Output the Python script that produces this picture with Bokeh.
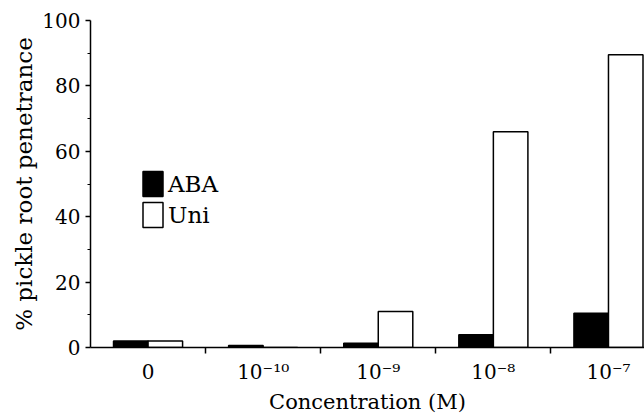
from bokeh.plotting import figure
from bokeh.models import Range1d, FixedTicker, ColumnDataSource, Legend, LegendItem
from bokeh.embed import file_html
from bokeh.resources import INLINE

categories = ["0", "10\u207b\u00b9\u2070", "10\u207b\u2079", "10\u207b\u2078", "10\u207b\u2077"]
aba = [2.0, 0.6, 1.3, 3.9, 10.5]
uni = [2.0, 0.0, 11.0, 66.0, 89.5]

centers = [i + 0.5 for i in range(len(categories))]
bar_w = 0.3
src = ColumnDataSource(dict(
    x_aba=[c - bar_w / 2 for c in centers],
    x_uni=[c + bar_w / 2 for c in centers],
    aba=aba, uni=uni,
))

FONT = "DejaVu Serif"

p = figure(width=644, height=416, output_backend="svg", toolbar_location=None,
           x_range=Range1d(0, 4.813), y_range=Range1d(0, 100),
           min_border_left=90, min_border_right=0, min_border_top=20, min_border_bottom=69)
p.outline_line_color = None
p.xgrid.visible = False
p.ygrid.visible = False
p.background_fill_color = "white"
p.border_fill_color = "white"

r_aba = p.vbar(x="x_aba", top="aba", width=bar_w, source=src,
               fill_color="black", line_color="black", line_width=1.5)
r_uni = p.vbar(x="x_uni", top="uni", width=bar_w, source=src,
               fill_color="white", line_color="black", line_width=1.5)

# x axis
xa = p.xaxis[0]
xa.ticker = FixedTicker(ticks=centers, minor_ticks=[1, 2, 3, 4])
xa.major_label_overrides = {c: lab for c, lab in zip(centers, categories)}
xa.major_tick_line_color = None
xa.major_tick_out = 0
xa.major_tick_in = 0
xa.minor_tick_out = 6
xa.minor_tick_in = 0
xa.minor_tick_line_color = "black"
xa.minor_tick_line_width = 1.5
xa.axis_line_width = 1.5
xa.major_label_standoff = 6
xa.major_label_text_font = FONT
xa.major_label_text_font_size = "20px"
xa.major_label_text_color = "black"
xa.axis_label = "Concentration (M)"
xa.axis_label_text_font = FONT
xa.axis_label_text_font_size = "21px"
xa.axis_label_text_font_style = "normal"
xa.axis_label_text_color = "black"
xa.axis_label_standoff = 3

# y axis
ya = p.yaxis[0]
ya.ticker = FixedTicker(ticks=[0, 20, 40, 60, 80, 100], minor_ticks=[10, 30, 50, 70, 90])
ya.major_tick_out = 5
ya.major_tick_in = 0
ya.minor_tick_out = 3
ya.minor_tick_in = 0
ya.major_tick_line_width = 1.5
ya.minor_tick_line_color = "black"
ya.axis_line_width = 1.5
ya.major_label_standoff = 5
ya.major_label_text_font = FONT
ya.major_label_text_font_size = "20px"
ya.major_label_text_color = "black"
ya.axis_label = "% pickle root penetrance"
ya.axis_label_text_font = FONT
ya.axis_label_text_font_size = "23px"
ya.axis_label_text_font_style = "normal"
ya.axis_label_text_color = "black"
ya.axis_label_standoff = 2

legend = Legend(items=[LegendItem(label="ABA", renderers=[r_aba]),
                       LegendItem(label="Uni", renderers=[r_uni])],
                location=(50, 117), padding=0, margin=0, spacing=-1,
                glyph_width=25, glyph_height=31, label_standoff=3,
                label_text_font=FONT, label_text_font_size="23px",
                label_text_color="black",
                border_line_color=None, background_fill_alpha=0)
p.add_layout(legend, "center")

open("out.html", "w").write(file_html(p, INLINE))
